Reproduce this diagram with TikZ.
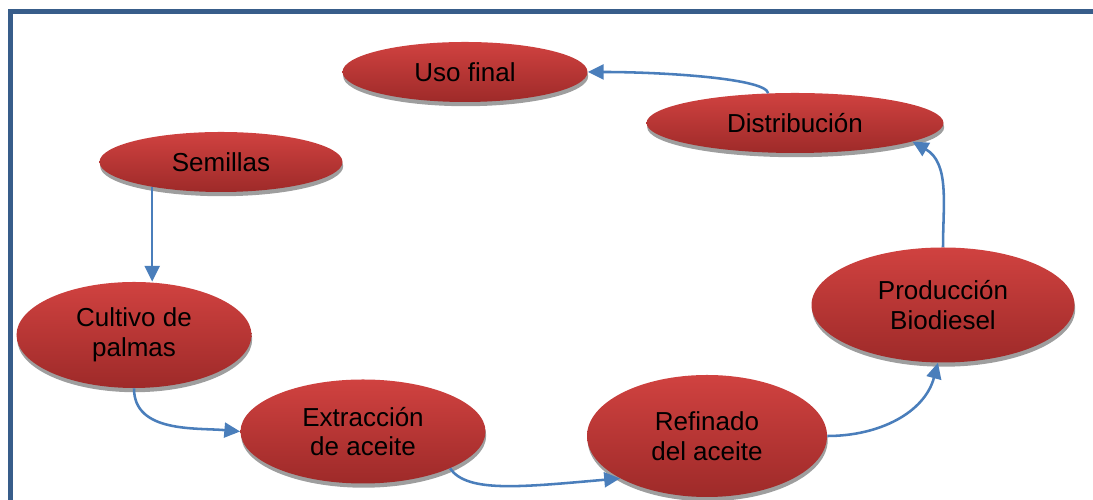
\documentclass[tikz,border=0pt]{standalone}
\usepackage{fontspec}
\setmainfont{Liberation Sans}
\usetikzlibrary{shapes.geometric,shadows,arrows.meta}
\definecolor{rojoarriba}{RGB}{208,66,64}
\definecolor{rojoabajo}{RGB}{158,42,41}
\definecolor{azulflecha}{RGB}{74,126,187}
\definecolor{azulmarco}{RGB}{56,93,138}
\begin{document}
\begin{tikzpicture}[
  etapa/.style={ellipse,inner sep=0pt,top color=rojoarriba,bottom color=rojoabajo,
    drop shadow={shadow xshift=0.4pt,shadow yshift=-2.4pt,fill=black!38,opacity=1},
    font=\fontsize{14.8}{17}\selectfont,align=center},
  flecha/.style={azulflecha,line width=1.45pt,-{Triangle[length=9pt,width=8.5pt]}}]
\useasboundingbox (0,0) rectangle (21.86,10);
% marco
\draw [azulmarco,line width=1mm] (0.21,0) -- (0.21,9.76) -- (21.86,9.76);

% etapas
\node [etapa,minimum width=4.90cm,minimum height=1.20cm] (uso) at (9.30,8.56) {Uso final};
\node [etapa,minimum width=5.94cm,minimum height=1.20cm] (distrib) at (15.90,7.54) {Distribución};
\node [etapa,minimum width=4.86cm,minimum height=1.20cm] (semillas) at (4.42,6.76) {Semillas};
\node [etapa,minimum width=4.70cm,minimum height=2.12cm] (cultivo) at (2.68,3.30) {Cultivo de\\palmas};
\node [etapa,minimum width=4.90cm,minimum height=2.08cm] (extraccion) at (7.26,1.37) {Extracción\\de aceite};
\node [etapa,minimum width=4.80cm,minimum height=2.44cm] (refinado) at (14.14,1.28) {Refinado\\del aceite};
\node [etapa,minimum width=5.26cm,minimum height=2.30cm] (produccion) at (18.86,3.90) {Producción\\Biodiesel};

% flechas
\draw [flecha] (semillas.200) -- (semillas.200 |- cultivo.north);
\draw [flecha] (cultivo.south) to [out=-90,in=175] (extraccion.west);
\draw [flecha] (extraccion.-23) to [out=-55,in=185,out distance=0.6cm,in distance=2cm] (refinado.206);
\draw [flecha] (refinado.east) to [out=0,in=-105] (produccion.-95);
\draw [flecha] (produccion.north) to [out=90,in=-30] (distrib.-9);
\draw [flecha] (distrib.132) to [out=100,in=0,out distance=0.3cm,in distance=1.5cm] (uso.east);
\end{tikzpicture}
\end{document}
